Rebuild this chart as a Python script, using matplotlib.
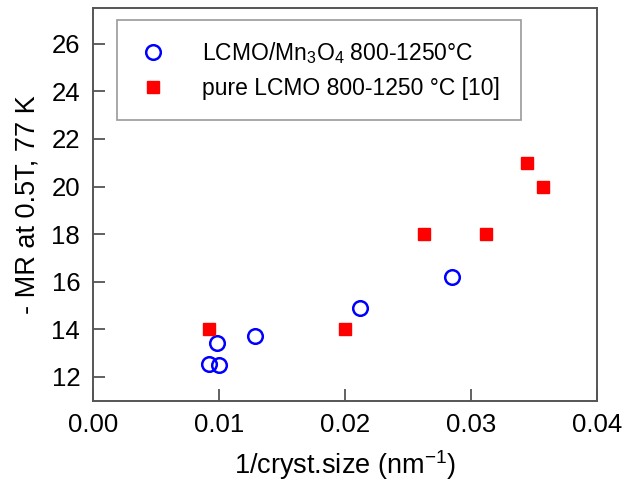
import matplotlib
matplotlib.use("Agg")
import matplotlib.pyplot as plt

plt.rcParams['font.family'] = ['Liberation Sans', 'DejaVu Sans']
plt.rcParams['mathtext.default'] = 'regular'

# LCMO/Mn3O4 composite samples
comp_x = [0.0092, 0.0100, 0.0099, 0.0129, 0.0212, 0.0285]
comp_mr = [12.55, 12.5, 13.43, 13.7, 14.9, 16.2]

# pure LCMO, ref [10]
pure_x = [0.0092, 0.0200, 0.0263, 0.0312, 0.0345, 0.0357]
pure_mr = [14, 14, 18, 18, 21, 20]

fig = plt.figure(figsize=(6.25, 4.9), dpi=100)
ax = fig.add_axes([0.1483, 0.1822, 0.8064, 0.8015])

ax.plot(comp_x, comp_mr, 'o', ms=10.5, mfc='none', mec='#0000ff', mew=1.8,
        label=r'LCMO/Mn$_3$O$_4$ 800-1250°C', linestyle='none')
ax.plot(pure_x, pure_mr, 's', ms=8.5, color='#ff0000', mec='#ff0000',
        label='pure LCMO 800-1250 °C [10]', linestyle='none')

ax.set_xlim(0.0, 0.04)
ax.set_ylim(11, 27.5)
ax.set_xticks([0.00, 0.01, 0.02, 0.03, 0.04])
ax.set_xticklabels(['0.00', '0.01', '0.02', '0.03', '0.04'])
ax.set_yticks(range(12, 27, 2))

ax.tick_params(direction='in', length=8.5, width=1.3, labelsize=18.5,
               color='#555555', pad=9)
for s in ax.spines.values():
    s.set_color('#555555')
    s.set_linewidth(1.4)

ax.set_xlabel('1/cryst.size (nm$^{-1}$)', fontsize=19.5, labelpad=8)
ax.set_ylabel('- MR at 0.5T, 77 K', fontsize=19.5, labelpad=8)

leg = ax.legend(loc='upper left', bbox_to_anchor=(0.049, 0.97), fontsize=16.5,
                frameon=True, fancybox=False, edgecolor='#808080',
                borderpad=0.9, handlelength=1.3, handletextpad=1.5,
                labelspacing=0.45, borderaxespad=0)
leg.get_frame().set_linewidth(1.2)

fig.savefig('out.png', dpi=100)
